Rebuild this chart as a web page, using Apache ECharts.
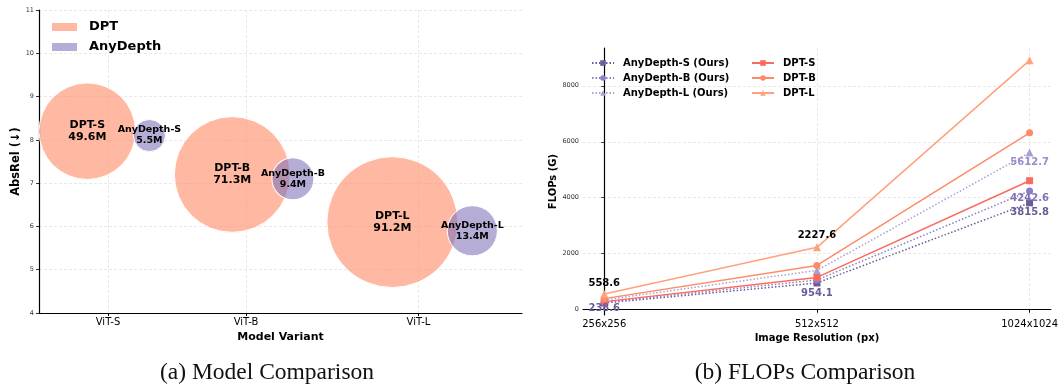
<!DOCTYPE html>
<html>
<head>
<meta charset="utf-8">
<script src="https://cdn.jsdelivr.net/npm/echarts@6/dist/echarts.min.js"></script>
<style>
	html, body { margin: 0; padding: 0; background: #fff; }
	#chart { width: 1061px; height: 387px; }
</style>
</head>
<body>
<div id="chart"></div>
<script>
	// (a) bubble chart data
	var variants = ['ViT-S', 'ViT-B', 'ViT-L'];
	var variantPos = [0.5, 1.5, 2.75];
	var dptNames = ['DPT-S', 'DPT-B', 'DPT-L'];
	var dptParams = [49.6, 71.3, 91.2];
	var dptPos = [0.35, 1.4, 2.56];
	var dptAbsRel = [8.2, 7.2, 6.1];
	var anyNames = ['AnyDepth-S', 'AnyDepth-B', 'AnyDepth-L'];
	var anyParams = [5.5, 9.4, 13.4];
	var anyPos = [0.8, 1.84, 3.14];
	var anyAbsRel = [8.1, 7.1, 5.9];

	// (b) FLOPs data
	var resolutions = ['256x256', '512x512', '1024x1024'];
	var resPos = [0, 1, 2];
	var flopsAnyS = [238.6, 954.1, 3815.8];
	var flopsAnyB = [265.2, 1060.7, 4242.6];
	var flopsAnyL = [350.8, 1403.2, 5612.7];
	var flopsDptS = [288, 1152, 4608];
	var flopsDptB = [395, 1580, 6321];
	var flopsDptL = [558.6, 2227.6, 8910];
	var flopsTicks = [0, 2000, 4000, 6000, 8000];

	var FONT = 'DejaVu Sans';

	function bubbleSeries(name, pos, vals, params, names, color, z) {
		return {
			type: 'scatter', name: name, xAxisIndex: 0, yAxisIndex: 0, z: z,
			data: pos.map(function(x, i) {
				return { value: [x, vals[i], params[i]], name: names[i] };
			}),
			symbol: 'circle',
			symbolSize: function(v) { return 13.7 * Math.sqrt(v[2]); },
			itemStyle: { color: color, opacity: 1, borderColor: '#fff', borderWidth: 1 },
			label: {
				show: true, position: 'inside', color: '#000', fontFamily: FONT, fontWeight: 'bold',
				fontSize: name == 'DPT' ? 11 : 9.5, lineHeight: name == 'DPT' ? 12 : 11,
				formatter: function(p) { return p.name + '\n' + p.value[2] + 'M'; }
			},
			emphasis: { disabled: true }
		};
	}

	// labelDy: vertical offset of each value text from its point (null = no text)
	function lineSeries(name, vals, color, dotted, symbol, labelDy, labelColor) {
		return {
			type: 'line', name: name, xAxisIndex: 1, yAxisIndex: 1,
			data: vals.map(function(v, i) {
				var item = { value: [resPos[i], v] };
				if (labelDy[i] != null) {
					item.label = {
						show: true, position: 'inside', offset: [0, labelDy[i]],
						color: labelColor, fontFamily: FONT, fontWeight: 'bold', fontSize: 10,
						formatter: function(p) { return p.value[1].toFixed(1); }
					};
				}
				return item;
			}),
			symbol: symbol, symbolSize: symbol == 'triangle' ? 8 : 7,
			itemStyle: { color: color },
			lineStyle: { color: color, width: 1.5, type: dotted ? [1.5, 2] : 'solid' },
			emphasis: { disabled: true }
		};
	}

	var gridLine = { show: true, lineStyle: { color: '#e3e3e3', type: [3, 2], width: 0.8 } };
	var axisBlack = { show: true, lineStyle: { color: '#000', width: 1.2 } };
	var tickBlack = { show: true, length: 3, lineStyle: { color: '#000', width: 0.8 } };
	var nameStyle = { fontFamily: FONT, fontWeight: 'bold', color: '#000' };
	var none = [null, null, null];

	var option = {
		animation: false,
		backgroundColor: '#fff',
		textStyle: { fontFamily: FONT },
		grid: [
			{ left: 39, top: 10, width: 483, height: 303 },
			{ left: 583, top: 48, width: 470, height: 267 }
		],
		legend: [
			{
				data: ['DPT', 'AnyDepth'], left: 45, top: 14, orient: 'vertical',
				icon: 'rect', itemWidth: 27, itemHeight: 10, itemGap: 4,
				textStyle: { fontFamily: FONT, fontWeight: 'bold', fontSize: 13, color: '#000', lineHeight: 16, padding: [0, 0, 0, 6] }
			},
			{
				data: ['AnyDepth-S (Ours)', 'AnyDepth-B (Ours)', 'AnyDepth-L (Ours)'], left: 586, top: 52, orient: 'vertical',
				itemWidth: 22, itemHeight: 7, itemGap: 3,
				textStyle: { fontFamily: FONT, fontWeight: 'bold', fontSize: 10, color: '#000', lineHeight: 12, padding: [0, 0, 0, 4] }
			},
			{
				data: ['DPT-S', 'DPT-B', 'DPT-L'], left: 746, top: 52, orient: 'vertical',
				itemWidth: 22, itemHeight: 7, itemGap: 3,
				textStyle: { fontFamily: FONT, fontWeight: 'bold', fontSize: 10, color: '#000', lineHeight: 12, padding: [0, 0, 0, 4] }
			}
		],
		xAxis: [
			{
				type: 'value', gridIndex: 0, min: 0, max: 3.5,
				axisLine: axisBlack, axisTick: { show: true, length: 3, customValues: variantPos, lineStyle: { color: '#000' } },
				axisLabel: {
					customValues: variantPos, margin: 4, fontSize: 10, color: '#000',
					formatter: function(v) { return variants[variantPos.indexOf(v)]; }
				},
				splitLine: gridLine,
				name: 'Model Variant', nameLocation: 'middle', nameGap: 16,
				nameTextStyle: Object.assign({ fontSize: 11 }, nameStyle)
			},
			{
				type: 'value', gridIndex: 1, min: -0.1, max: 2.1,
				axisLine: axisBlack, axisTick: { show: true, length: 3, customValues: resPos, lineStyle: { color: '#000' } },
				axisLabel: {
					customValues: resPos, margin: 4, fontSize: 10, color: '#000',
					formatter: function(v) { return resolutions[v]; }
				},
				splitLine: gridLine,
				name: 'Image Resolution (px)', nameLocation: 'middle', nameGap: 16,
				nameTextStyle: Object.assign({ fontSize: 10 }, nameStyle)
			}
		],
		yAxis: [
			{
				type: 'value', gridIndex: 0, min: 4, max: 11, interval: 1,
				axisLine: axisBlack, axisTick: tickBlack,
				axisLabel: { fontSize: 6.5, color: '#333', margin: 5 },
				splitLine: gridLine,
				name: 'AbsRel (\u2193)', nameLocation: 'middle', nameGap: 13,
				nameTextStyle: Object.assign({ fontSize: 11.5 }, nameStyle)
			},
			{
				type: 'value', gridIndex: 1, min: -190, max: 9350,
				axisLine: axisBlack, axisTick: { show: true, length: 3, customValues: flopsTicks, lineStyle: { color: '#000', width: 0.8 } },
				axisLabel: {
					customValues: flopsTicks, fontSize: 6.5, color: '#333', margin: 4,
					formatter: function(v) { return String(v); }
				},
				splitLine: gridLine,
				name: 'FLOPs (G)', nameLocation: 'middle', nameGap: 21,
				nameTextStyle: Object.assign({ fontSize: 10 }, nameStyle)
			}
		],
		series: [
			bubbleSeries('DPT', dptPos, dptAbsRel, dptParams, dptNames, 'rgba(255,140,105,0.62)', 2),
			bubbleSeries('AnyDepth', anyPos, anyAbsRel, anyParams, anyNames, 'rgba(127,114,185,0.58)', 3),
			lineSeries('AnyDepth-S (Ours)', flopsAnyS, '#6b5b9a', true, 'rect', [5, 10, 10], '#6b5b9a'),
			lineSeries('AnyDepth-B (Ours)', flopsAnyB, '#8d7ec4', true, 'circle', [null, null, 7], '#8272b6'),
			lineSeries('AnyDepth-L (Ours)', flopsAnyL, '#aa9fd5', true, 'triangle', [null, null, 10], '#9a8dc8'),
			lineSeries('DPT-S', flopsDptS, '#fa6b5e', false, 'rect', none, '#000'),
			lineSeries('DPT-B', flopsDptB, '#ff8a68', false, 'circle', none, '#000'),
			lineSeries('DPT-L', flopsDptL, '#ffa27c', false, 'triangle', [-11, -12, null], '#000')
		],
		graphic: [
			{
				type: 'text', x: 267, y: 373,
				style: { text: '(a) Model Comparison', fontFamily: 'Liberation Serif', fontSize: 23.5, fill: '#111', align: 'center', verticalAlign: 'middle' }
			},
			{
				type: 'text', x: 805, y: 373,
				style: { text: '(b) FLOPs Comparison', fontFamily: 'Liberation Serif', fontSize: 23.5, fill: '#111', align: 'center', verticalAlign: 'middle' }
			}
		]
	};

	var myChart = echarts.init(document.getElementById('chart'));
	myChart.setOption(option);
</script>
</body>
</html>
